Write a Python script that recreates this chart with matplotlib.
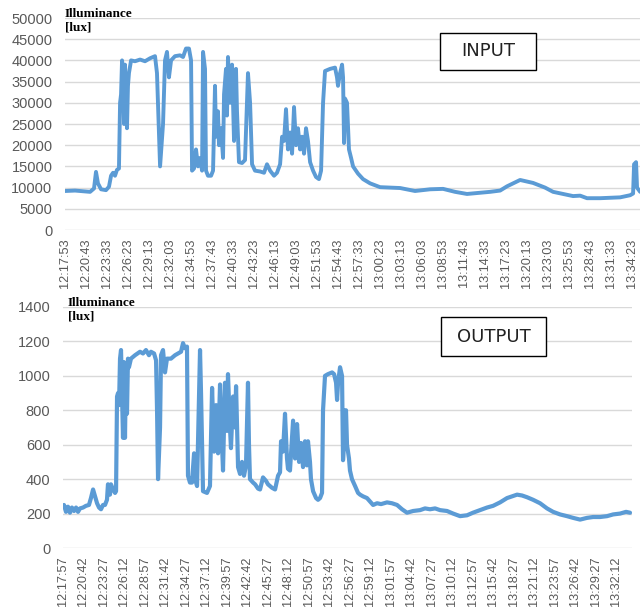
import matplotlib
matplotlib.use("Agg")
import matplotlib.pyplot as plt
from matplotlib.patches import Rectangle

# ---------------- data ----------------
# INPUT: seconds after 12:17:53, illuminance [lux]
in_t = [0, 81, 162, 203, 235, 251, 267, 292, 332, 356, 373, 389, 405, 421, 437, 446, 454, 462, 470, 478,
        486, 502, 510, 518, 535, 567, 608, 648, 689, 729, 745, 770, 794, 810, 826, 842, 859, 891, 932, 956,
        980, 1004, 1021, 1029, 1045, 1061, 1077, 1094, 1110, 1118, 1134, 1142, 1158, 1183, 1199, 1215, 1223,
        1239, 1247, 1264, 1280, 1288, 1304, 1312, 1320, 1337, 1353, 1369, 1385, 1393, 1409, 1434, 1458, 1482,
        1499, 1515, 1539, 1580, 1612, 1636, 1661, 1693, 1717, 1742, 1758, 1774, 1790, 1806, 1823, 1839, 1855,
        1871, 1887, 1904, 1920, 1936, 1952, 1968, 1985, 2009, 2033, 2057, 2074, 2090, 2106, 2147, 2187, 2203,
        2211, 2228, 2244, 2252, 2260, 2268, 2284, 2300, 2317, 2333, 2373, 2414, 2471, 2552, 2714, 2835, 2957,
        3062, 3159, 3256, 3443, 3524, 3580, 3686, 3791, 3888, 3953, 4050, 4115, 4172, 4228, 4334, 4496, 4577,
        4601, 4609, 4625, 4633, 4658]
in_v = [9200, 9300, 9100, 9000, 9800, 13700, 11000, 9600, 9400, 10200, 12800, 13500, 12800, 14200, 14500,
        30000, 32000, 40000, 38000, 25000, 39000, 24000, 34000, 37000, 40000, 39800, 40200, 39800, 40500,
        41000, 37000, 15000, 25000, 40000, 42000, 36000, 40000, 41000, 41200, 40800, 42800, 42800, 40000,
        14000, 14500, 19000, 15000, 17000, 14000, 42000, 38000, 14000, 12800, 12800, 14000, 34000, 22000,
        28000, 20000, 24000, 17000, 32000, 38000, 27000, 40800, 30000, 39000, 21000, 38000, 28000, 16000,
        15800, 16500, 37000, 30000, 15500, 14000, 13800, 13500, 15500, 14000, 12800, 13500, 15500, 22000,
        21000, 28500, 19000, 23000, 18000, 29000, 20000, 24000, 19000, 22000, 18000, 24000, 21000, 16000,
        14000, 12500, 12000, 14000, 30000, 37500, 38000, 38300, 36000, 34000, 37000, 39000, 36000, 20500,
        31000, 30000, 19000, 17000, 15000, 13300, 12000, 11000, 10100, 9900, 9200, 9600, 9700, 9000, 8500,
        9000, 9300, 10300, 11800, 11100, 10000, 9000, 8400, 8000, 8100, 7500, 7500, 7700, 8200, 8600, 15500,
        16000, 10000, 9000]

# OUTPUT: seconds after 12:17:57, illuminance [lux]
out_t = [8, 24, 40, 56, 72, 89, 105, 121, 137, 161, 185, 209, 225, 242, 258, 274, 290, 306, 322, 338, 354,
         362, 378, 386, 403, 419, 427, 435, 443, 451, 459, 467, 475, 483, 491, 499, 507, 515, 523, 531, 547,
         580, 620, 644, 668, 692, 708, 733, 749, 757, 765, 781, 789, 805, 821, 837, 869, 902, 926, 950, 966,
         982, 998, 1006, 1022, 1038, 1055, 1063, 1079, 1095, 1103, 1111, 1127, 1159, 1183, 1200, 1216, 1232,
         1248, 1264, 1280, 1288, 1304, 1320, 1328, 1344, 1352, 1369, 1385, 1393, 1401, 1409, 1425, 1441, 1457,
         1473, 1489, 1497, 1505, 1530, 1546, 1570, 1586, 1610, 1634, 1650, 1682, 1707, 1731, 1747, 1755, 1771,
         1787, 1803, 1811, 1827, 1852, 1868, 1884, 1900, 1916, 1932, 1948, 1964, 1972, 1988, 1996, 2013, 2037,
         2053, 2069, 2085, 2093, 2109, 2133, 2166, 2182, 2198, 2206, 2214, 2230, 2246, 2254, 2262, 2270, 2278,
         2286, 2302, 2310, 2326, 2351, 2375, 2391, 2415, 2447, 2471, 2496, 2528, 2560, 2608, 2648, 2689, 2729,
         2769, 2818, 2874, 2914, 2954, 2995, 3035, 3091, 3140, 3196, 3252, 3300, 3357, 3413, 3462, 3518, 3574,
         3615, 3655, 3695, 3735, 3784, 3840, 3896, 3945, 4001, 4057, 4106, 4162, 4218, 4267, 4323, 4379, 4428,
         4484, 4532, 4564]
out_v = [250, 210, 240, 205, 235, 215, 235, 210, 230, 235, 245, 250, 290, 340, 300, 260, 235, 225, 250, 250,
         280, 370, 310, 370, 340, 320, 330, 880, 900, 830, 1100, 1150, 900, 640, 1080, 640, 1050, 780, 1100,
         1050, 1100, 1120, 1140, 1130, 1150, 1120, 1140, 1130, 1090, 800, 400, 700, 1120, 1150, 1020, 1100,
         1100, 1120, 1130, 1140, 1190, 1160, 1170, 420, 380, 380, 550, 400, 360, 900, 1150, 900, 330, 320, 360,
         930, 560, 830, 550, 950, 600, 450, 960, 680, 1010, 700, 580, 880, 700, 940, 700, 470, 430, 500, 420,
         480, 960, 600, 400, 380, 370, 345, 340, 410, 390, 370, 350, 340, 420, 440, 620, 560, 780, 520, 460,
         450, 740, 520, 720, 500, 610, 470, 620, 480, 620, 500, 400, 330, 290, 280, 290, 320, 800, 1000, 1010,
         1020, 1010, 960, 860, 960, 1050, 1000, 510, 600, 800, 800, 600, 520, 450, 400, 360, 320, 310, 300, 290,
         270, 250, 260, 255, 265, 260, 250, 225, 205, 215, 220, 230, 225, 230, 220, 215, 200, 185, 190, 205,
         220, 235, 245, 265, 290, 300, 310, 305, 295, 280, 260, 230, 210, 195, 185, 175, 165, 175, 180, 180,
         185, 195, 200, 210, 205]

in_labels = ["12:17:53", "12:20:43", "12:23:33", "12:26:23", "12:29:13", "12:32:03", "12:34:53",
             "12:37:43", "12:40:33", "12:43:23", "12:46:13", "12:49:03", "12:51:53", "12:54:43",
             "12:57:33", "13:00:23", "13:03:13", "13:06:03", "13:08:53", "13:11:43", "13:14:33",
             "13:17:23", "13:20:13", "13:23:03", "13:25:53", "13:28:43", "13:31:33", "13:34:23"]
out_labels = ["12:17:57", "12:20:42", "12:23:27", "12:26:12", "12:28:57", "12:31:42", "12:34:27",
              "12:37:12", "12:39:57", "12:42:42", "12:45:27", "12:48:12", "12:50:57", "12:53:42",
              "12:56:27", "12:59:12", "13:01:57", "13:04:42", "13:07:27", "13:10:12", "13:12:57",
              "13:15:42", "13:18:27", "13:21:12", "13:23:57", "13:26:42", "13:29:27", "13:32:12"]
in_tick_step = 170   # seconds between labels
out_tick_step = 165
in_yticks = list(range(0, 50001, 5000))
out_yticks = list(range(0, 1401, 200))

# ---------------- style ----------------
LINE = "#5B9BD5"
GRID = "#D9D9D9"
TXT = "#595959"
TICKFONT = ["Liberation Sans", "DejaVu Sans"]

fig = plt.figure(figsize=(6.4, 6.08), dpi=100)

def setup(ax, t, v, labels, step, yticks, xmax, lw):
    ax.plot(t, v, color=LINE, lw=lw, solid_joinstyle="round", solid_capstyle="round", zorder=3)
    ax.set_xlim(0, xmax)
    ax.set_ylim(yticks[0], yticks[-1])
    ax.set_xticks([i * step for i in range(len(labels))])
    ax.set_xticklabels(labels, rotation=90, fontsize=9.2, color=TXT, family=TICKFONT)
    ax.set_yticks(yticks)
    ax.set_yticklabels([str(y) for y in yticks], fontsize=10.5, color=TXT, family=TICKFONT)
    ax.tick_params(axis="both", length=0)
    ax.tick_params(axis="y", pad=9)
    ax.tick_params(axis="x", pad=6)
    for s in ax.spines.values():
        s.set_visible(False)
    ax.grid(axis="y", color=GRID, lw=1.0, zorder=0)
    ax.set_axisbelow(True)

ax1 = fig.add_axes([65 / 640, 378 / 608, 575 / 640, 212 / 608])
setup(ax1, in_t, in_v, in_labels, in_tick_step, in_yticks, 4657, 2.8)

ax2 = fig.add_axes([63 / 640, 60 / 608, 569 / 640, 241 / 608])
setup(ax2, out_t, out_v, out_labels, out_tick_step, out_yticks, 4580, 3.0)

serif = ["Liberation Serif", "DejaVu Serif"]
fig.text(65 / 640, 1 - 8 / 608, "Illuminance\n[lux]", ha="left", va="top", fontsize=9.5,
         fontweight="bold", family=serif, linespacing=1.15)
fig.text(68 / 640, 1 - 297 / 608, "Illuminance\n[lux]", ha="left", va="top", fontsize=9.5,
         fontweight="bold", family=serif, linespacing=1.15)

narrow = ["Liberation Sans Narrow", "DejaVu Sans"]
for (x0, y0, x1, y1, label) in [(440, 33, 536, 70, "INPUT"), (441, 317, 546, 356, "OUTPUT")]:
    fig.patches.append(Rectangle((x0 / 640, 1 - y1 / 608), (x1 - x0) / 640, (y1 - y0) / 608,
                                 transform=fig.transFigure, fill=True, facecolor="white",
                                 edgecolor="black", lw=1.0, zorder=5))
    fig.text((x0 + x1) / 2 / 640, 1 - (y0 + y1) / 2 / 608, label, ha="center", va="center",
             fontsize=13, family=narrow, color="#222222", zorder=6)

fig.savefig("out.png", dpi=100, facecolor="white")
